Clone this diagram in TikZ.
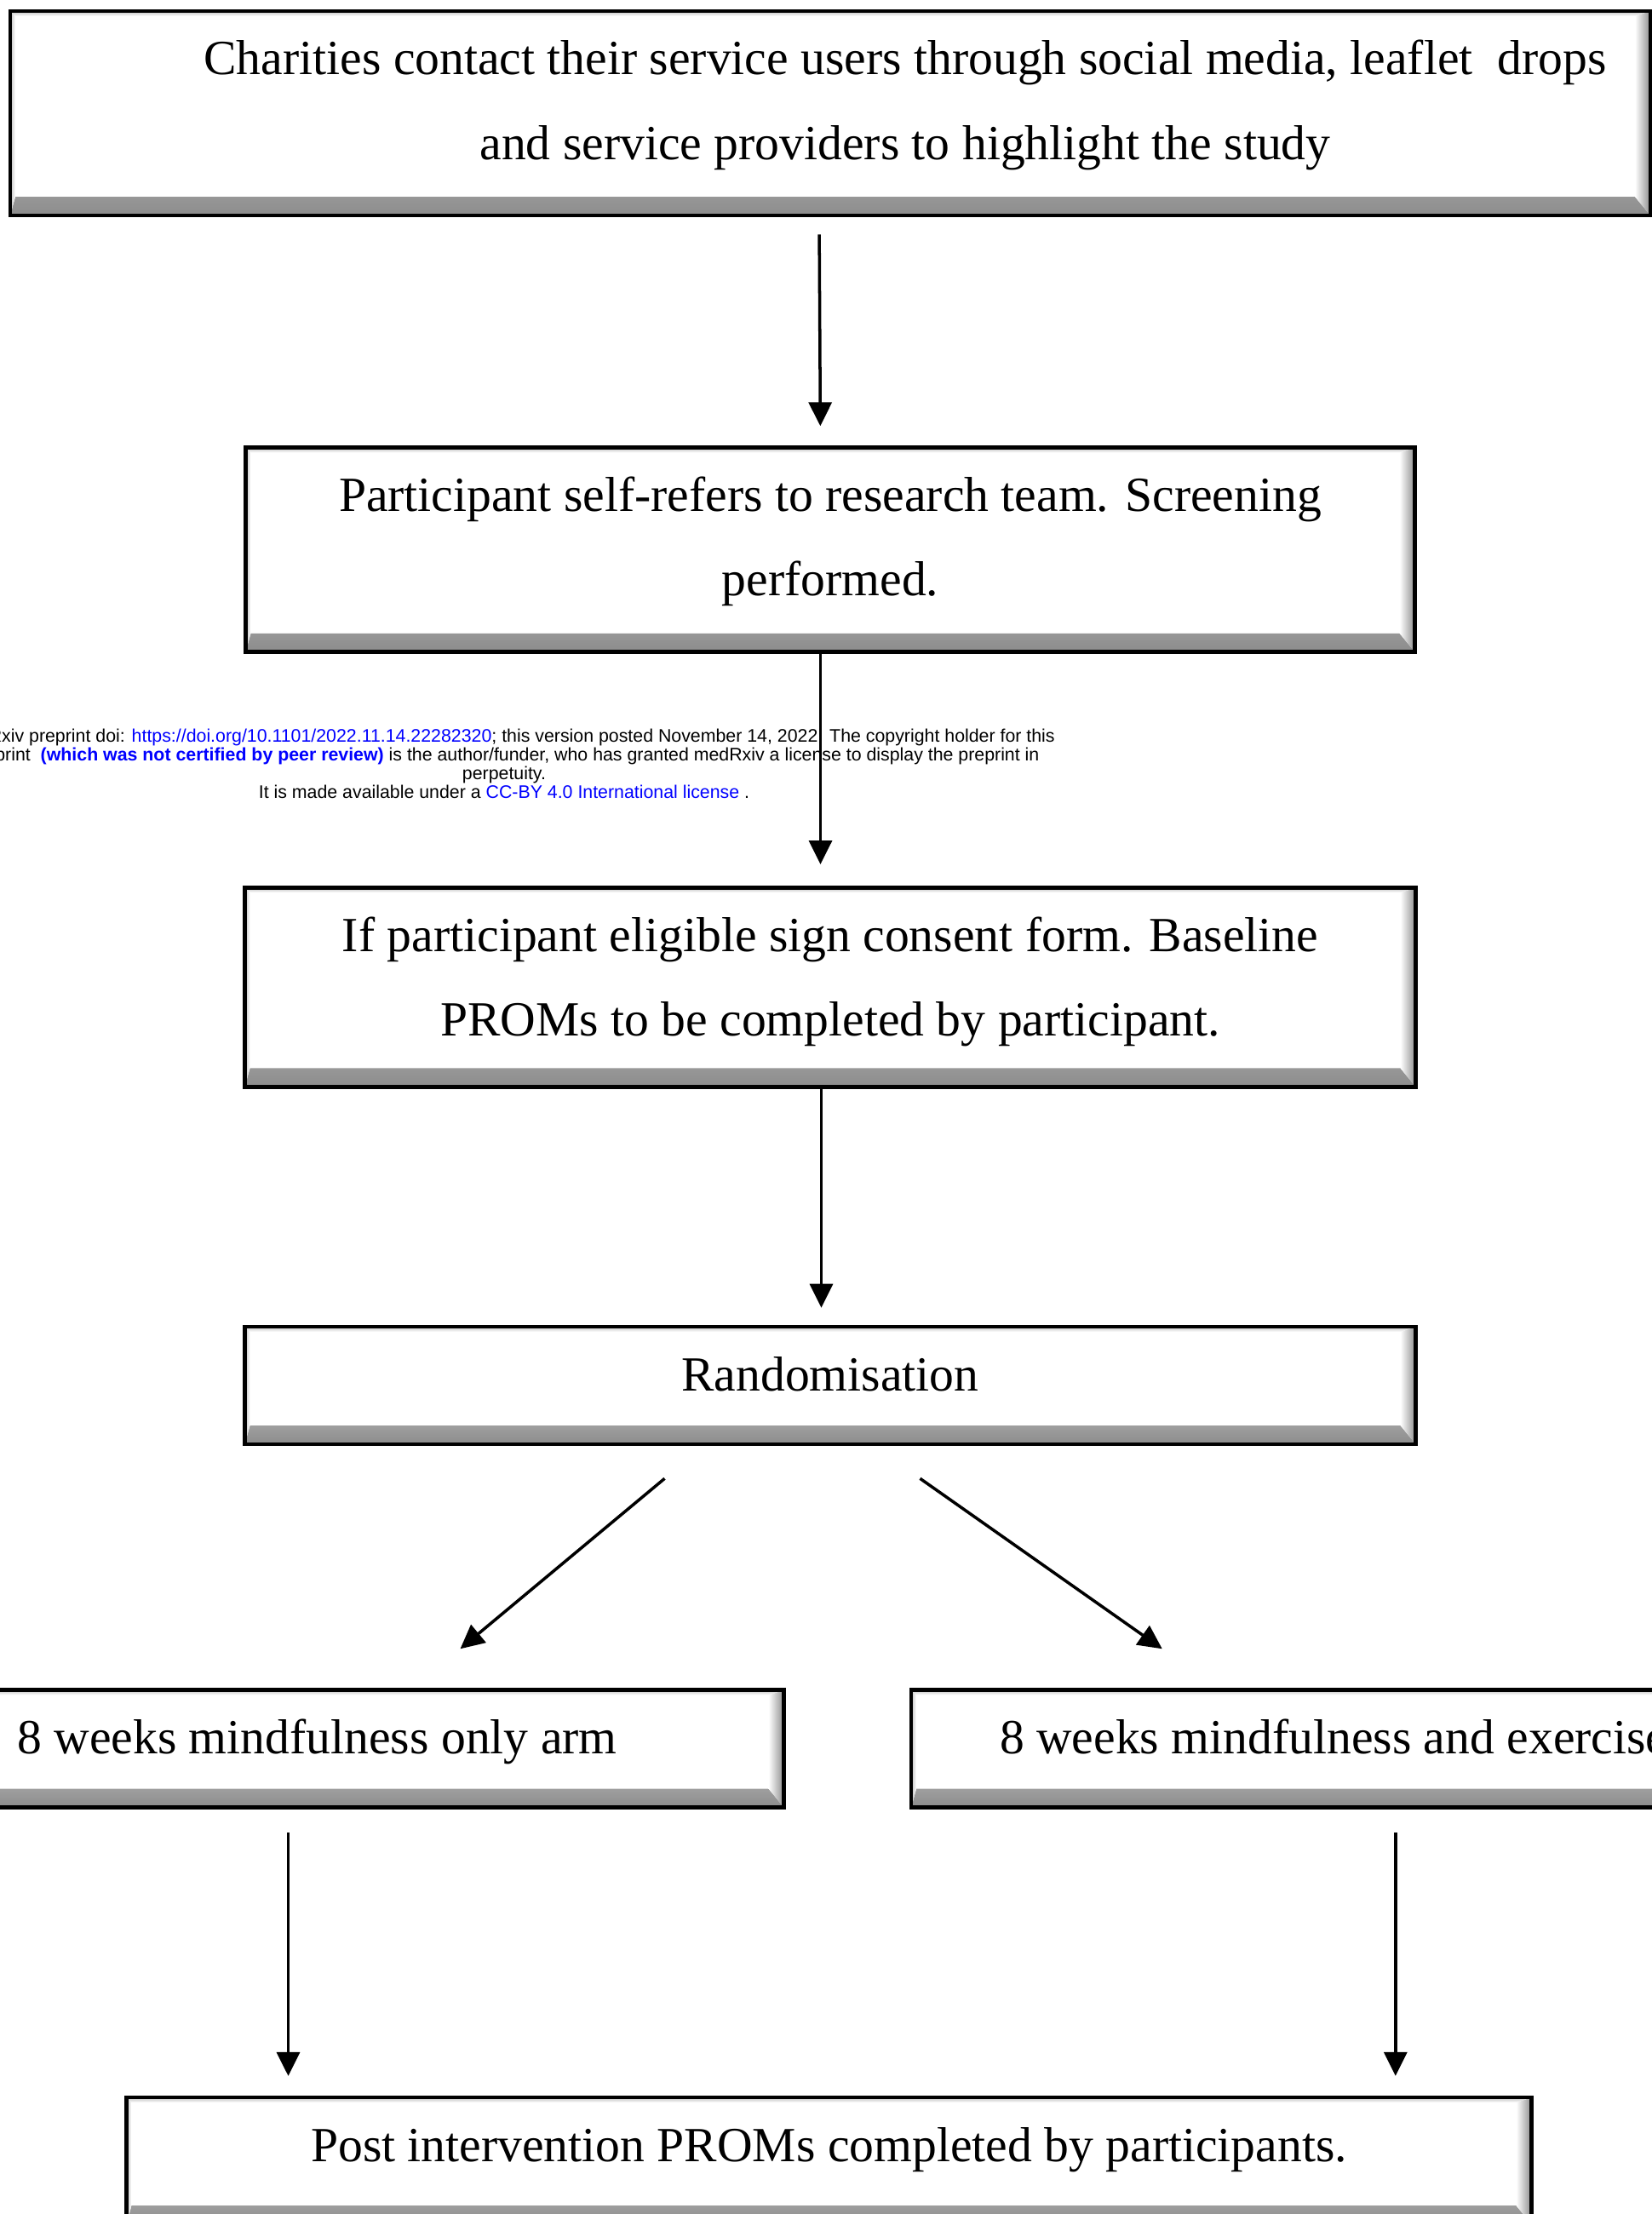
\documentclass[tikz,border=0pt]{standalone}
\usepackage{fontspec}
\setmainfont{Liberation Serif}
\newfontfamily\notefont{Liberation Sans}
\usepackage{tikz}
\usetikzlibrary{positioning,arrows.meta}

\definecolor{linkblue}{RGB}{0,0,255}
\newcommand\topstrut{\rule{0pt}{0.75cm}}
\newcommand\botstrut{\rule[-0.66cm]{0pt}{0pt}}
\newcommand\bevel{%
  \shade[top color=white, middle color=black!12, bottom color=black!45]
    (path picture bounding box.south west) -- (path picture bounding box.south east)
    -- ++(-1.8mm,2.2mm) -- ([shift={(0.6mm,2.2mm)}]path picture bounding box.south west) -- cycle;
  \shade[left color=white, middle color=black!12, right color=black!45]
    (path picture bounding box.south east) -- (path picture bounding box.north east)
    -- ++(-1.8mm,-0.6mm) -- ([shift={(-1.8mm,2.2mm)}]path picture bounding box.south east) -- cycle;
  \shade[left color=black!25, right color=white]
    (path picture bounding box.south west) -- (path picture bounding box.north west)
    -- ++(0.6mm,-0.6mm) -- ([shift={(0.6mm,2.2mm)}]path picture bounding box.south west) -- cycle;
  \shade[top color=black!25, bottom color=white]
    (path picture bounding box.north west) -- (path picture bounding box.north east)
    -- ++(-1.8mm,-0.6mm) -- ([shift={(0.6mm,-0.6mm)}]path picture bounding box.north west) -- cycle;
}

\tikzset{
  flowbox/.style={draw, line width=1.3pt, rectangle, inner sep=0pt, align=center,
    font=\fontsize{16.4}{28.2}\selectfont, path picture={\bevel}},
  flow/.style={line width=1pt, -{Triangle[width=2.7mm,length=2.8mm]}}
}

\begin{document}
\begin{tikzpicture}[node distance=2.68cm]
  \path[use as bounding box, clip] (0,0) rectangle (19.4,-26);

  \node[flowbox, minimum width=19.26cm] (Charities) at (9.75,-1.33)
    {\topstrut\hspace*{1.76cm}Charities contact their service users through social media, leaflet~ drops\\
     \hspace*{1.76cm}and service providers to highlight the study\botstrut};
  \node[flowbox, minimum width=13.73cm] (Referral) [below=of Charities]
    {\topstrut Participant self-refers to research team. Screening\\ performed.\botstrut};
  \node[flowbox, minimum width=13.75cm] (Consent) [below=2.72cm of Referral]
    {\topstrut If participant eligible sign consent form. Baseline\\ PROMs to be completed by participant.\rule[-0.6cm]{0pt}{0pt}};
  \node[flowbox, minimum width=13.75cm] (Randomise) [below=2.77cm of Consent]
    {\topstrut Randomisation\rule[-0.63cm]{0pt}{0pt}};
  \node[flowbox, minimum width=10.96cm] (MindOnly) [below=2.84cm of Randomise, xshift=-6.025cm]
    {\topstrut 8 weeks mindfulness only arm\rule[-0.63cm]{0pt}{0pt}};
  \node[flowbox, align=left, inner xsep=1.04cm] (MindExercise) [right=1.45cm of MindOnly]
    {\topstrut 8 weeks mindfulness and exercise\rule[-0.63cm]{0pt}{0pt}};
  \node[flowbox, minimum width=16.5cm] (PostProms) [below=3.36cm of MindOnly, xshift=6.01cm]
    {\topstrut Post intervention PROMs completed by participants.\rule[-0.74cm]{0pt}{0pt}};

  % preprint stamp
  \node[font=\notefont\fontsize{6.07}{6.25}\selectfont, align=center, inner sep=0pt] (Watermark) at (5.92,-8.97)
    {medRxiv preprint doi: \textcolor{linkblue}{https://doi.org/10.1101/2022.11.14.22282320}; this version posted November 14, 2022. The copyright holder for this\\
     preprint~ \textcolor{linkblue}{\bfseries(which was not certified by peer review)} is the author/funder, who has granted medRxiv a license to display the preprint in\\
     perpetuity.\\
     It is made available under a \textcolor{linkblue}{CC-BY 4.0 International license} .};

  \coordinate (ArmL) at ([shift={(-0.34,-0.27)}]MindOnly.south);
  \coordinate (ArmR) at ([shift={(5.71,-0.27)}]MindExercise.south west);

  \path[flow]
    ([xshift=-1.3mm]Charities.south) edge[shorten <=2mm, shorten >=2.3mm] ([xshift=-1.15mm]Referral.north)
    ([xshift=-1.15mm]Referral.south) edge[shorten >=2.5mm] ([xshift=-1.15mm]Consent.north)
    ([xshift=-1.05mm]Consent.south) edge[shorten >=2mm] ([xshift=-1.05mm]Randomise.north)
    ([shift={(-1.945,-0.38)}]Randomise.south) edge ([shift={(1.68,0.46)}]MindOnly.north)
    ([shift={(1.055,-0.38)}]Randomise.south) edge ([shift={(2.97,0.46)}]MindExercise.north west)
    (ArmL) edge[shorten >=2.3mm] (ArmL |- PostProms.north)
    (ArmR) edge[shorten >=2.3mm] (ArmR |- PostProms.north);
\end{tikzpicture}
\end{document}
